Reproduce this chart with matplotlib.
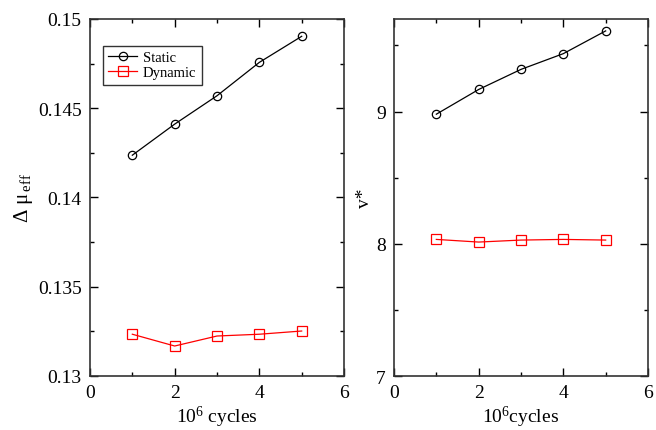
import matplotlib.pyplot as plt
import numpy as np

plt.rcParams['font.family'] = ['Liberation Serif', 'DejaVu Serif']
plt.rcParams['mathtext.fontset'] = 'custom'
plt.rcParams['mathtext.rm'] = 'Liberation Serif'
plt.rcParams['mathtext.it'] = 'Liberation Serif:italic'

cycles = [1, 2, 3, 4, 5]
mu_static = [0.14237, 0.14411, 0.14570, 0.14757, 0.14903]
mu_dynamic = [0.13234, 0.13168, 0.13224, 0.13234, 0.13252]
v_static = [8.98, 9.167, 9.319, 9.438, 9.61]
v_dynamic = [8.033, 8.013, 8.028, 8.033, 8.028]

fig = plt.figure(figsize=(6.56, 4.31), dpi=100)
ax1 = fig.add_axes([90/656, 54/431, 254/656, 357/431])
ax2 = fig.add_axes([394/656, 54/431, 254/656, 357/431])

for ax in (ax1, ax2):
    ax.tick_params(direction='in', which='both', top=True, right=True, labelsize=14, pad=6)
    ax.tick_params(which='major', length=6, width=1)
    ax.tick_params(which='minor', length=3, width=1)
    for s in ax.spines.values():
        s.set_linewidth(1.2)
        s.set_color('#333333')
    ax.set_xlim(0, 6)
    ax.set_xticks([0, 2, 4, 6])
    ax.set_xticks([1, 3, 5], minor=True)

ax1.plot(cycles, mu_static, color='black', lw=0.9, marker='o', ms=6,
         mfc='none', mec='black', mew=0.9, label='Static')
ax1.plot(cycles, mu_dynamic, color='red', lw=0.9, marker='s', ms=7,
         mfc='none', mec='red', mew=0.9, label='Dynamic')
ax1.set_ylim(0.13, 0.15)
ax1.set_yticks([0.13, 0.135, 0.14, 0.145, 0.15])
ax1.set_yticklabels(['0.13', '0.135', '0.14', '0.145', '0.15'])
ax1.set_yticks(np.arange(0.1325, 0.15, 0.005), minor=True)
ax1.set_xlabel(r'10$^{6}$ cycles', fontsize=14, labelpad=2)
ax1.set_ylabel(r'Δ μ$_{\,\mathrm{eff}}$', fontsize=15, labelpad=2)
leg = ax1.legend(loc='upper left', bbox_to_anchor=(0.051, 0.925), borderaxespad=0,
                 fontsize=10.5, frameon=True, fancybox=False, edgecolor='black',
                 handlelength=2.0, borderpad=0.35, labelspacing=0.15, handletextpad=0.4)
leg.get_frame().set_linewidth(1.0)

ax2.plot(cycles, v_static, color='black', lw=0.9, marker='o', ms=6,
         mfc='none', mec='black', mew=0.9)
ax2.plot(cycles, v_dynamic, color='red', lw=0.9, marker='s', ms=7,
         mfc='none', mec='red', mew=0.9)
ax2.set_ylim(7, 9.7)
ax2.set_yticks([7, 8, 9])
ax2.set_yticks([7.5, 8.5, 9.5], minor=True)
ax2.set_xlabel(r'10$^{6}$cycles', fontsize=14, labelpad=2)
ax2.set_ylabel('v*', fontsize=14, labelpad=2)

fig.savefig('out.png', dpi=100)
